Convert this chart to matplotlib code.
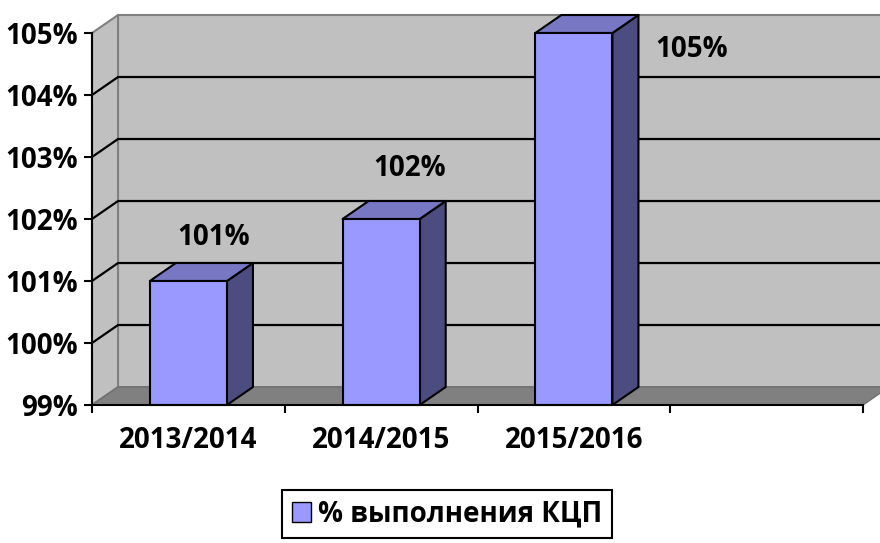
import matplotlib.pyplot as plt
from matplotlib.patches import Polygon, Patch
from matplotlib.ticker import FuncFormatter, FixedLocator

# data
categories = ['2013/2014', '2014/2015', '2015/2016']
values = [1.01, 1.02, 1.05]
labels = ['101%', '102%', '105%']
series_name = '% выполнения КЦП'
y_ticks = [0.99, 1.00, 1.01, 1.02, 1.03, 1.04, 1.05]
n_slots = 4

plt.rcParams['font.family'] = ['Open Sans', 'DejaVu Sans']
plt.rcParams['font.weight'] = 'bold'

ymin, ymax = 0.99, 1.05
dx, dy = 0.135, 0.0029          # 3d depth offset (category units, value units)
bar_w = 0.40
face = '#9999FF'
top_c = '#7777C4'
side_c = '#4C4C80'
wall = '#C0C0C0'
floor_c = '#808080'
fs = 20

fig = plt.figure(figsize=(8.8, 5.43), dpi=100)
ax = fig.add_axes([92/880, 138/543, 771/880, 372/543])
ax.set_xlim(0, n_slots)
ax.set_ylim(ymin, ymax)
ax.patch.set_visible(False)

# back wall
ax.add_patch(Polygon([(dx, ymin+dy), (n_slots+dx, ymin+dy), (n_slots+dx, ymax+dy), (dx, ymax+dy)],
                     closed=True, facecolor=wall, edgecolor='#808080', lw=1.5, clip_on=False, zorder=0))
# side wall
ax.add_patch(Polygon([(0, ymin), (dx, ymin+dy), (dx, ymax+dy), (0, ymax)],
                     closed=True, facecolor=wall, edgecolor='#808080', lw=1.5, clip_on=False, zorder=0))
# floor
ax.add_patch(Polygon([(0, ymin), (n_slots, ymin), (n_slots+dx, ymin+dy), (dx, ymin+dy)],
                     closed=True, facecolor=floor_c, edgecolor='#707070', lw=1.0, clip_on=False, zorder=1))

# gridlines
for t in y_ticks[1:-1]:
    ax.plot([0, dx, n_slots+dx], [t, t+dy, t+dy], color='black', lw=1.6, clip_on=False, zorder=2)

# bars
for i, v in enumerate(values):
    x0 = i + 0.5 - bar_w/2
    x1 = x0 + bar_w
    side = [(x1, ymin), (x1+dx, ymin+dy), (x1+dx, v+dy), (x1, v)]
    top = [(x0, v), (x1, v), (x1+dx, v+dy), (x0+dx, v+dy)]
    front = [(x0, ymin), (x1, ymin), (x1, v), (x0, v)]
    for pts, c in [(side, side_c), (top, top_c), (front, face)]:
        ax.add_patch(Polygon(pts, closed=True, facecolor=c, edgecolor='black', lw=1.5,
                             joinstyle='round', clip_on=False, zorder=3))

# data labels
label_pos = [(0.63, 0.007), (1.65, 0.0082), (3.11, -0.0026)]
for (lx, off), v, s in zip(label_pos, values, labels):
    ax.text(lx, v + off, s, ha='center', va='center', fontsize=fs, fontweight='bold', zorder=5)

# axes
for s in ['top', 'right']:
    ax.spines[s].set_visible(False)
for s in ['left', 'bottom']:
    ax.spines[s].set_linewidth(1.5)
    ax.spines[s].set_zorder(4)
ax.set_yticks(y_ticks)
ax.yaxis.set_major_formatter(FuncFormatter(lambda v, p: f'{v*100:.0f}%'))
ax.tick_params(axis='y', length=6, width=1.5, labelsize=fs, pad=4)
ax.xaxis.set_major_locator(FixedLocator(range(n_slots + 1)))
ax.xaxis.set_minor_locator(FixedLocator([i + 0.5 for i in range(len(categories))]))
ax.xaxis.set_major_formatter(FuncFormatter(lambda v, p: ''))
ax.set_xticklabels(categories, minor=True)
ax.tick_params(axis='x', which='major', length=6, width=1.5)
ax.tick_params(axis='x', which='minor', length=0, labelsize=fs, pad=15)
for t in ax.get_yticklabels() + ax.get_xticklabels(minor=True):
    t.set_fontweight('bold')

# legend
handle = Patch(facecolor=face, edgecolor='black', lw=1.0)
leg = fig.legend([handle], [series_name], loc='center', bbox_to_anchor=(447/880, 1 - 514/543),
                 fancybox=False, edgecolor='black', framealpha=1, handlelength=0.7, handleheight=0.7,
                 handletextpad=0.25, borderpad=0.35, prop={'weight': 'bold', 'size': fs})
leg.get_frame().set_linewidth(1.5)

fig.savefig('out.png', dpi=100)
